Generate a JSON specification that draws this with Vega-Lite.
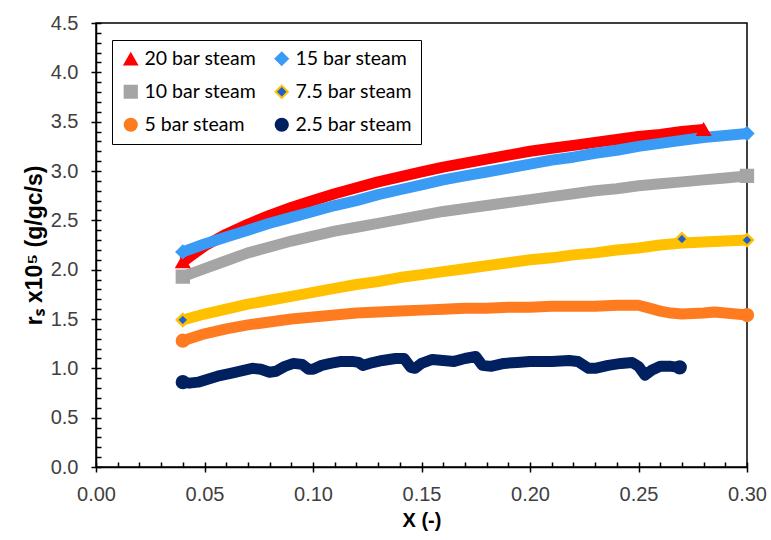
{
  "$schema": "https://vega.github.io/schema/vega-lite/v6.json",
  "width": 651,
  "height": 444,
  "autosize": {"type": "none"},
  "padding": {"left": 96, "top": 23, "right": 24, "bottom": 73},
  "background": "white",
  "config": {
    "view": {"stroke": "#000", "strokeWidth": 1.5},
    "legend": {
      "orient": "none",
      "direction": "horizontal",
      "legendX": 16,
      "legendY": 17,
      "columns": 2,
      "strokeColor": "#000",
      "strokeWidth": 1,
      "padding": 9,
      "labelFont": "Lato",
      "labelFontSize": 19.5,
      "labelColor": "#000",
      "labelLimit": 200,
      "labelOffset": 4,
      "symbolSize": 150,
      "symbolStrokeWidth": 2,
      "rowPadding": 12,
      "columnPadding": 14
    }
  },
  "datasets": {
    "curves": [
      {"series": "20 bar steam", "x": 0.040, "rs": 2.08},
      {"series": "20 bar steam", "x": 0.045, "rs": 2.16},
      {"series": "20 bar steam", "x": 0.050, "rs": 2.24},
      {"series": "20 bar steam", "x": 0.060, "rs": 2.36},
      {"series": "20 bar steam", "x": 0.070, "rs": 2.46},
      {"series": "20 bar steam", "x": 0.080, "rs": 2.55},
      {"series": "20 bar steam", "x": 0.090, "rs": 2.63},
      {"series": "20 bar steam", "x": 0.100, "rs": 2.70},
      {"series": "20 bar steam", "x": 0.110, "rs": 2.77},
      {"series": "20 bar steam", "x": 0.120, "rs": 2.83},
      {"series": "20 bar steam", "x": 0.130, "rs": 2.89},
      {"series": "20 bar steam", "x": 0.140, "rs": 2.94},
      {"series": "20 bar steam", "x": 0.150, "rs": 2.99},
      {"series": "20 bar steam", "x": 0.160, "rs": 3.04},
      {"series": "20 bar steam", "x": 0.170, "rs": 3.08},
      {"series": "20 bar steam", "x": 0.180, "rs": 3.12},
      {"series": "20 bar steam", "x": 0.190, "rs": 3.16},
      {"series": "20 bar steam", "x": 0.200, "rs": 3.20},
      {"series": "20 bar steam", "x": 0.210, "rs": 3.23},
      {"series": "20 bar steam", "x": 0.220, "rs": 3.26},
      {"series": "20 bar steam", "x": 0.230, "rs": 3.29},
      {"series": "20 bar steam", "x": 0.240, "rs": 3.32},
      {"series": "20 bar steam", "x": 0.250, "rs": 3.35},
      {"series": "20 bar steam", "x": 0.260, "rs": 3.37},
      {"series": "20 bar steam", "x": 0.270, "rs": 3.40},
      {"series": "20 bar steam", "x": 0.280, "rs": 3.42},

      {"series": "15 bar steam", "x": 0.040, "rs": 2.18},
      {"series": "15 bar steam", "x": 0.050, "rs": 2.26},
      {"series": "15 bar steam", "x": 0.060, "rs": 2.33},
      {"series": "15 bar steam", "x": 0.070, "rs": 2.40},
      {"series": "15 bar steam", "x": 0.080, "rs": 2.47},
      {"series": "15 bar steam", "x": 0.090, "rs": 2.53},
      {"series": "15 bar steam", "x": 0.100, "rs": 2.59},
      {"series": "15 bar steam", "x": 0.110, "rs": 2.65},
      {"series": "15 bar steam", "x": 0.120, "rs": 2.70},
      {"series": "15 bar steam", "x": 0.130, "rs": 2.76},
      {"series": "15 bar steam", "x": 0.140, "rs": 2.81},
      {"series": "15 bar steam", "x": 0.150, "rs": 2.86},
      {"series": "15 bar steam", "x": 0.160, "rs": 2.91},
      {"series": "15 bar steam", "x": 0.170, "rs": 2.95},
      {"series": "15 bar steam", "x": 0.180, "rs": 2.99},
      {"series": "15 bar steam", "x": 0.190, "rs": 3.03},
      {"series": "15 bar steam", "x": 0.200, "rs": 3.07},
      {"series": "15 bar steam", "x": 0.210, "rs": 3.11},
      {"series": "15 bar steam", "x": 0.220, "rs": 3.14},
      {"series": "15 bar steam", "x": 0.230, "rs": 3.18},
      {"series": "15 bar steam", "x": 0.240, "rs": 3.21},
      {"series": "15 bar steam", "x": 0.250, "rs": 3.25},
      {"series": "15 bar steam", "x": 0.260, "rs": 3.28},
      {"series": "15 bar steam", "x": 0.270, "rs": 3.31},
      {"series": "15 bar steam", "x": 0.280, "rs": 3.34},
      {"series": "15 bar steam", "x": 0.290, "rs": 3.36},
      {"series": "15 bar steam", "x": 0.300, "rs": 3.38},

      {"series": "10 bar steam", "x": 0.040, "rs": 1.93},
      {"series": "10 bar steam", "x": 0.050, "rs": 2.01},
      {"series": "10 bar steam", "x": 0.060, "rs": 2.09},
      {"series": "10 bar steam", "x": 0.070, "rs": 2.17},
      {"series": "10 bar steam", "x": 0.080, "rs": 2.23},
      {"series": "10 bar steam", "x": 0.090, "rs": 2.29},
      {"series": "10 bar steam", "x": 0.100, "rs": 2.34},
      {"series": "10 bar steam", "x": 0.110, "rs": 2.39},
      {"series": "10 bar steam", "x": 0.120, "rs": 2.43},
      {"series": "10 bar steam", "x": 0.130, "rs": 2.47},
      {"series": "10 bar steam", "x": 0.140, "rs": 2.51},
      {"series": "10 bar steam", "x": 0.150, "rs": 2.55},
      {"series": "10 bar steam", "x": 0.160, "rs": 2.59},
      {"series": "10 bar steam", "x": 0.170, "rs": 2.62},
      {"series": "10 bar steam", "x": 0.180, "rs": 2.65},
      {"series": "10 bar steam", "x": 0.190, "rs": 2.68},
      {"series": "10 bar steam", "x": 0.200, "rs": 2.71},
      {"series": "10 bar steam", "x": 0.210, "rs": 2.74},
      {"series": "10 bar steam", "x": 0.220, "rs": 2.77},
      {"series": "10 bar steam", "x": 0.230, "rs": 2.80},
      {"series": "10 bar steam", "x": 0.240, "rs": 2.82},
      {"series": "10 bar steam", "x": 0.250, "rs": 2.85},
      {"series": "10 bar steam", "x": 0.260, "rs": 2.87},
      {"series": "10 bar steam", "x": 0.270, "rs": 2.89},
      {"series": "10 bar steam", "x": 0.280, "rs": 2.91},
      {"series": "10 bar steam", "x": 0.290, "rs": 2.93},
      {"series": "10 bar steam", "x": 0.300, "rs": 2.95},

      {"series": "7.5 bar steam", "x": 0.040, "rs": 1.49},
      {"series": "7.5 bar steam", "x": 0.050, "rs": 1.55},
      {"series": "7.5 bar steam", "x": 0.060, "rs": 1.60},
      {"series": "7.5 bar steam", "x": 0.070, "rs": 1.65},
      {"series": "7.5 bar steam", "x": 0.080, "rs": 1.69},
      {"series": "7.5 bar steam", "x": 0.090, "rs": 1.73},
      {"series": "7.5 bar steam", "x": 0.100, "rs": 1.77},
      {"series": "7.5 bar steam", "x": 0.110, "rs": 1.81},
      {"series": "7.5 bar steam", "x": 0.120, "rs": 1.85},
      {"series": "7.5 bar steam", "x": 0.130, "rs": 1.88},
      {"series": "7.5 bar steam", "x": 0.140, "rs": 1.92},
      {"series": "7.5 bar steam", "x": 0.150, "rs": 1.95},
      {"series": "7.5 bar steam", "x": 0.160, "rs": 1.98},
      {"series": "7.5 bar steam", "x": 0.170, "rs": 2.01},
      {"series": "7.5 bar steam", "x": 0.180, "rs": 2.04},
      {"series": "7.5 bar steam", "x": 0.190, "rs": 2.07},
      {"series": "7.5 bar steam", "x": 0.200, "rs": 2.10},
      {"series": "7.5 bar steam", "x": 0.210, "rs": 2.12},
      {"series": "7.5 bar steam", "x": 0.220, "rs": 2.15},
      {"series": "7.5 bar steam", "x": 0.230, "rs": 2.17},
      {"series": "7.5 bar steam", "x": 0.240, "rs": 2.20},
      {"series": "7.5 bar steam", "x": 0.250, "rs": 2.22},
      {"series": "7.5 bar steam", "x": 0.260, "rs": 2.25},
      {"series": "7.5 bar steam", "x": 0.270, "rs": 2.27},
      {"series": "7.5 bar steam", "x": 0.280, "rs": 2.28},
      {"series": "7.5 bar steam", "x": 0.290, "rs": 2.29},
      {"series": "7.5 bar steam", "x": 0.300, "rs": 2.30},

      {"series": "5 bar steam", "x": 0.040, "rs": 1.28},
      {"series": "5 bar steam", "x": 0.050, "rs": 1.35},
      {"series": "5 bar steam", "x": 0.060, "rs": 1.40},
      {"series": "5 bar steam", "x": 0.070, "rs": 1.44},
      {"series": "5 bar steam", "x": 0.080, "rs": 1.47},
      {"series": "5 bar steam", "x": 0.090, "rs": 1.50},
      {"series": "5 bar steam", "x": 0.100, "rs": 1.52},
      {"series": "5 bar steam", "x": 0.110, "rs": 1.54},
      {"series": "5 bar steam", "x": 0.120, "rs": 1.56},
      {"series": "5 bar steam", "x": 0.130, "rs": 1.57},
      {"series": "5 bar steam", "x": 0.140, "rs": 1.58},
      {"series": "5 bar steam", "x": 0.150, "rs": 1.59},
      {"series": "5 bar steam", "x": 0.160, "rs": 1.60},
      {"series": "5 bar steam", "x": 0.170, "rs": 1.61},
      {"series": "5 bar steam", "x": 0.180, "rs": 1.61},
      {"series": "5 bar steam", "x": 0.190, "rs": 1.62},
      {"series": "5 bar steam", "x": 0.200, "rs": 1.62},
      {"series": "5 bar steam", "x": 0.210, "rs": 1.63},
      {"series": "5 bar steam", "x": 0.220, "rs": 1.63},
      {"series": "5 bar steam", "x": 0.230, "rs": 1.63},
      {"series": "5 bar steam", "x": 0.240, "rs": 1.64},
      {"series": "5 bar steam", "x": 0.250, "rs": 1.64},
      {"series": "5 bar steam", "x": 0.255, "rs": 1.61},
      {"series": "5 bar steam", "x": 0.260, "rs": 1.58},
      {"series": "5 bar steam", "x": 0.265, "rs": 1.56},
      {"series": "5 bar steam", "x": 0.270, "rs": 1.55},
      {"series": "5 bar steam", "x": 0.280, "rs": 1.56},
      {"series": "5 bar steam", "x": 0.285, "rs": 1.57},
      {"series": "5 bar steam", "x": 0.290, "rs": 1.56},
      {"series": "5 bar steam", "x": 0.300, "rs": 1.54},

      {"series": "2.5 bar steam", "x": 0.040, "rs": 0.86},
      {"series": "2.5 bar steam", "x": 0.043, "rs": 0.85},
      {"series": "2.5 bar steam", "x": 0.047, "rs": 0.86},
      {"series": "2.5 bar steam", "x": 0.050, "rs": 0.88},
      {"series": "2.5 bar steam", "x": 0.056, "rs": 0.92},
      {"series": "2.5 bar steam", "x": 0.062, "rs": 0.95},
      {"series": "2.5 bar steam", "x": 0.068, "rs": 0.98},
      {"series": "2.5 bar steam", "x": 0.072, "rs": 1.00},
      {"series": "2.5 bar steam", "x": 0.076, "rs": 0.99},
      {"series": "2.5 bar steam", "x": 0.080, "rs": 0.96},
      {"series": "2.5 bar steam", "x": 0.083, "rs": 0.97},
      {"series": "2.5 bar steam", "x": 0.087, "rs": 1.02},
      {"series": "2.5 bar steam", "x": 0.091, "rs": 1.05},
      {"series": "2.5 bar steam", "x": 0.095, "rs": 1.04},
      {"series": "2.5 bar steam", "x": 0.098, "rs": 0.99},
      {"series": "2.5 bar steam", "x": 0.100, "rs": 0.99},
      {"series": "2.5 bar steam", "x": 0.104, "rs": 1.03},
      {"series": "2.5 bar steam", "x": 0.108, "rs": 1.05},
      {"series": "2.5 bar steam", "x": 0.113, "rs": 1.07},
      {"series": "2.5 bar steam", "x": 0.118, "rs": 1.07},
      {"series": "2.5 bar steam", "x": 0.121, "rs": 1.06},
      {"series": "2.5 bar steam", "x": 0.123, "rs": 1.03},
      {"series": "2.5 bar steam", "x": 0.126, "rs": 1.05},
      {"series": "2.5 bar steam", "x": 0.132, "rs": 1.08},
      {"series": "2.5 bar steam", "x": 0.138, "rs": 1.10},
      {"series": "2.5 bar steam", "x": 0.142, "rs": 1.10},
      {"series": "2.5 bar steam", "x": 0.145, "rs": 1.01},
      {"series": "2.5 bar steam", "x": 0.147, "rs": 1.00},
      {"series": "2.5 bar steam", "x": 0.150, "rs": 1.05},
      {"series": "2.5 bar steam", "x": 0.155, "rs": 1.09},
      {"series": "2.5 bar steam", "x": 0.160, "rs": 1.08},
      {"series": "2.5 bar steam", "x": 0.165, "rs": 1.07},
      {"series": "2.5 bar steam", "x": 0.170, "rs": 1.10},
      {"series": "2.5 bar steam", "x": 0.175, "rs": 1.12},
      {"series": "2.5 bar steam", "x": 0.178, "rs": 1.03},
      {"series": "2.5 bar steam", "x": 0.182, "rs": 1.02},
      {"series": "2.5 bar steam", "x": 0.188, "rs": 1.05},
      {"series": "2.5 bar steam", "x": 0.194, "rs": 1.06},
      {"series": "2.5 bar steam", "x": 0.200, "rs": 1.07},
      {"series": "2.5 bar steam", "x": 0.210, "rs": 1.07},
      {"series": "2.5 bar steam", "x": 0.218, "rs": 1.08},
      {"series": "2.5 bar steam", "x": 0.222, "rs": 1.07},
      {"series": "2.5 bar steam", "x": 0.227, "rs": 1.00},
      {"series": "2.5 bar steam", "x": 0.230, "rs": 1.00},
      {"series": "2.5 bar steam", "x": 0.236, "rs": 1.03},
      {"series": "2.5 bar steam", "x": 0.242, "rs": 1.05},
      {"series": "2.5 bar steam", "x": 0.247, "rs": 1.06},
      {"series": "2.5 bar steam", "x": 0.250, "rs": 1.02},
      {"series": "2.5 bar steam", "x": 0.253, "rs": 0.93},
      {"series": "2.5 bar steam", "x": 0.256, "rs": 0.98},
      {"series": "2.5 bar steam", "x": 0.260, "rs": 1.02},
      {"series": "2.5 bar steam", "x": 0.265, "rs": 1.02},
      {"series": "2.5 bar steam", "x": 0.269, "rs": 1.01}
    ],
    "markers": [
      {"series": "20 bar steam", "x": 0.040, "rs": 2.08},
      {"series": "20 bar steam", "x": 0.280, "rs": 3.42},
      {"series": "15 bar steam", "x": 0.040, "rs": 2.18},
      {"series": "15 bar steam", "x": 0.300, "rs": 3.38},
      {"series": "10 bar steam", "x": 0.040, "rs": 1.93},
      {"series": "10 bar steam", "x": 0.300, "rs": 2.95},
      {"series": "7.5 bar steam", "x": 0.040, "rs": 1.49},
      {"series": "7.5 bar steam", "x": 0.270, "rs": 2.31},
      {"series": "7.5 bar steam", "x": 0.300, "rs": 2.30},
      {"series": "5 bar steam", "x": 0.040, "rs": 1.28},
      {"series": "5 bar steam", "x": 0.300, "rs": 1.54},
      {"series": "2.5 bar steam", "x": 0.040, "rs": 0.86},
      {"series": "2.5 bar steam", "x": 0.269, "rs": 1.01}
    ]
  },
  "layer": [
    {
      "data": {"name": "curves"},
      "mark": {"type": "line", "strokeWidth": 11, "strokeCap": "butt", "strokeJoin": "round"},
      "encoding": {
        "x": {
          "field": "x", "type": "quantitative",
          "scale": {"domain": [0, 0.3], "nice": false},
          "axis": {
            "orient": "bottom",
            "values": [0, 0.05, 0.1, 0.15, 0.2, 0.25, 0.3],
            "format": ".2f",
            "grid": false,
            "domainColor": "#000", "domainWidth": 1.5,
            "tickColor": "#000", "tickWidth": 1.5, "tickSize": 5,
            "labelFont": "Liberation Sans", "labelFontSize": 20,
            "labelColor": "#404040", "labelPadding": 12,
            "labelFlush": false, "labelOverlap": false,
            "title": "X (-)",
            "titleFont": "Liberation Sans", "titleFontSize": 20, "titleFontWeight": "bold",
            "titleColor": "#000", "titlePadding": 6
          }
        },
        "y": {
          "field": "rs", "type": "quantitative",
          "scale": {"domain": [0, 4.5], "nice": false},
          "axis": {
            "orient": "left",
            "values": [0, 0.5, 1, 1.5, 2, 2.5, 3, 3.5, 4, 4.5],
            "format": ".1f",
            "grid": false,
            "domainColor": "#000", "domainWidth": 1.5,
            "tickColor": "#000", "tickWidth": 1.5, "tickSize": 5,
            "labelFont": "Liberation Sans", "labelFontSize": 20,
            "labelColor": "#404040", "labelPadding": 13,
            "labelOverlap": false,
            "title": "rₛ x10⁵ (g/gc/s)",
            "titleFont": "Liberation Sans", "titleFontSize": 23, "titleFontWeight": "bold",
            "titleColor": "#000", "titlePadding": 4
          }
        },
        "color": {
          "field": "series", "type": "nominal",
          "scale": {
            "domain": ["20 bar steam", "15 bar steam", "10 bar steam", "7.5 bar steam", "5 bar steam", "2.5 bar steam"],
            "range": ["#FF0000", "#3A9BF5", "#A5A5A5", "#FFC000", "#FF7B1F", "#002060"]
          },
          "legend": null
        },
        "order": {"field": "x", "type": "quantitative"}
      }
    },
    {
      "data": {"name": "markers"},
      "mark": {"type": "point", "filled": true, "opacity": 1, "strokeWidth": 2.5, "size": 140},
      "encoding": {
        "x": {
          "field": "x", "type": "quantitative",
          "axis": {
            "orient": "bottom",
            "values": [0, 0.01, 0.02, 0.03, 0.04, 0.05, 0.06, 0.07, 0.08, 0.09, 0.1, 0.11, 0.12, 0.13, 0.14, 0.15, 0.16, 0.17, 0.18, 0.19, 0.2, 0.21, 0.22, 0.23, 0.24, 0.25, 0.26, 0.27, 0.28, 0.29, 0.3],
            "grid": false, "domain": false, "labels": false, "title": null,
            "tickColor": "#000", "tickWidth": 1.5, "tickSize": -5
          }
        },
        "y": {
          "field": "rs", "type": "quantitative",
          "axis": {
            "orient": "left",
            "values": [0, 0.1, 0.2, 0.3, 0.4, 0.5, 0.6, 0.7, 0.8, 0.9, 1, 1.1, 1.2, 1.3, 1.4, 1.5, 1.6, 1.7, 1.8, 1.9, 2, 2.1, 2.2, 2.3, 2.4, 2.5, 2.6, 2.7, 2.8, 2.9, 3, 3.1, 3.2, 3.3, 3.4, 3.5, 3.6, 3.7, 3.8, 3.9, 4, 4.1, 4.2, 4.3, 4.4, 4.5],
            "grid": false, "domain": false, "labels": false, "title": null,
            "tickColor": "#000", "tickWidth": 1.5, "tickSize": -5
          }
        },
        "color": {
          "field": "series", "type": "nominal",
          "scale": {
            "domain": ["20 bar steam", "15 bar steam", "10 bar steam", "7.5 bar steam", "5 bar steam", "2.5 bar steam"],
            "range": ["#FF0000", "#3A9BF5", "#A5A5A5", "#1F5FD0", "#FF7B1F", "#002060"]
          },
          "legend": {"title": null}
        },
        "stroke": {
          "field": "series", "type": "nominal",
          "scale": {
            "domain": ["20 bar steam", "15 bar steam", "10 bar steam", "7.5 bar steam", "5 bar steam", "2.5 bar steam"],
            "range": ["#FF0000", "#3A9BF5", "#A5A5A5", "#FFC000", "#FF7B1F", "#002060"]
          },
          "legend": {"title": null}
        },
        "shape": {
          "field": "series", "type": "nominal",
          "scale": {
            "domain": ["20 bar steam", "15 bar steam", "10 bar steam", "7.5 bar steam", "5 bar steam", "2.5 bar steam"],
            "range": ["triangle-up", "diamond", "square", "diamond", "circle", "circle"]
          },
          "legend": {"title": null}
        }
      }
    }
  ],
  "resolve": {
    "scale": {"color": "independent", "stroke": "independent", "shape": "independent"},
    "legend": {"color": "independent", "stroke": "independent", "shape": "independent"},
    "axis": {"x": "independent", "y": "independent"}
  }
}
